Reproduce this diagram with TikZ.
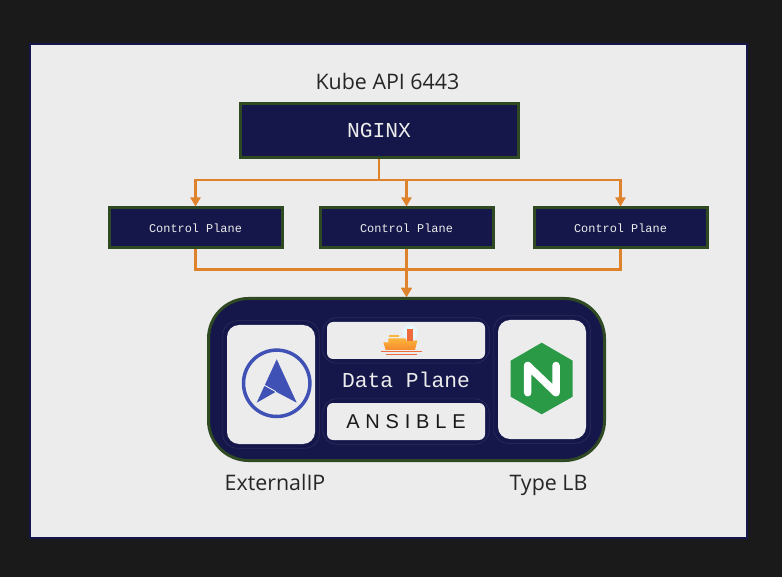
\documentclass[tikz,border=0pt]{standalone}
\usepackage{fontspec}
\usepackage{xcolor}
\setmainfont{Open Sans}
\newfontfamily\monofont{Liberation Mono}
\newfontfamily\logofont[LetterSpace=29]{Liberation Sans}
\usetikzlibrary{arrows.meta, positioning}

\definecolor{pagedark}{HTML}{1A1A1A}
\definecolor{panelgray}{HTML}{ECECEC}
\definecolor{navy}{HTML}{15174A}
\definecolor{mossgreen}{HTML}{2F4A22}
\definecolor{linkorange}{HTML}{DE832B}
\definecolor{compassblue}{HTML}{3F51B5}
\definecolor{nginxgreen}{HTML}{2A9A47}
\definecolor{hulltop}{HTML}{FBB53A}
\definecolor{hullbottom}{HTML}{F58A2E}
\definecolor{shipred}{HTML}{EE6B3E}

\begin{document}
\begin{tikzpicture}[
        x=1pt, y=-1pt,
        box/.style={rectangle, draw=mossgreen, line width=3pt, fill=navy, text=panelgray, align=center, font=\monofont},
        mainbox/.style={box, minimum width=278pt, minimum height=54pt, font=\monofont\fontsize{21.3}{24}\selectfont},
        planebox/.style={box, minimum width=173pt, minimum height=40pt, font=\monofont\fontsize{11.9}{14}\selectfont},
        card/.style={rectangle, fill=panelgray, rounded corners=#1, inner sep=0pt},
        card/.default=6pt,
        caption/.style={anchor=base, font=\fontsize{21.4}{24}\selectfont, text=black!85},
        link/.style={draw=linkorange, line width=2.2pt, -{Triangle[width=10pt, length=9pt]}}
    ]

    % page and panel
    \useasboundingbox (0,0) rectangle (782,577);
    \fill[pagedark] (0,0) rectangle (782,577);
    \node[rectangle, draw=navy, line width=2pt, fill=panelgray, minimum width=717pt, minimum height=494pt] (panel) at (388.5,291) {};

    \node[caption] (kube) at (387.5,90) {Kube API 6443};
    \node[mainbox] (nginx) at (379,130.5) {NGINX};

    \node[planebox] (plane2) at (406.5,228) {Control Plane};
    \node[planebox, left=35pt of plane2] (plane1) {Control Plane};
    \node[planebox, right=38pt of plane2] (plane3) {Control Plane};

    % data plane block
    \node[rectangle, draw=mossgreen, line width=3pt, fill=navy, rounded corners=40pt, minimum width=396pt, minimum height=162pt] (data) at (406.5,379.5) {};

    \node[card=12pt, minimum width=88pt, minimum height=119pt] (ipcard) at (271,384.5) {};
    \node[card=12pt, minimum width=88pt, minimum height=119pt] (lbcard) at (542,379.5) {};
    \node[card, minimum width=158pt, minimum height=37pt] (shipcard) at (406,340.5) {};
    \node[card, minimum width=158pt, minimum height=37pt, font=\logofont\fontsize{20}{24}\selectfont, text=black!90] (ansible) at (406,421.5) {ANSIBLE};
    \node[text=panelgray, font=\monofont\fontsize{21.3}{24}\selectfont] (dataplane) at (406,380) {Data Plane};

    % faint rings round the cards
    \foreach \c in {ipcard, lbcard, shipcard, ansible}
        \draw[white!10!navy, line width=0.6pt, rounded corners=14pt] ([shift={(-4,-4)}]\c.north west) rectangle ([shift={(4,4)}]\c.south east);

    \node[caption] (extip) at (275,490) {ExternalIP};
    \node[caption] (typelb) at (548.5,490) {Type LB};

    % compass icon
    \draw[compassblue, line width=3.5pt] (276.7,383.3) circle (33.2pt);
    \fill[compassblue] (276.7,359.3) -- (296.7,402.7) -- (276,391.7) -- (256.7,402.7) -- cycle;
    \draw[white, line width=0.8pt] (264,385) -- (276,391.7);

    % hexagon icon
    \fill[nginxgreen] (541.7,342.7) -- (572.7,360.7) -- (572.7,396.7) -- (541.7,414.3) -- (510.7,396.7) -- (510.7,360.7) -- cycle;
    \draw[white, line width=7.5pt, line cap=round, line join=round] (527.7,392.7) -- (527.7,365.5) -- (556,392.7) -- (556,365.5);

    % ship icon
    \fill[cyan!10!white] (410,332.7) circle (7.5pt);
    \fill[hulltop] (389.3,334.8) rectangle (399.3,337.5);
    \shade[top color=hulltop, bottom color=hullbottom] (388.3,338.5) -- (406,338.5) -- (406,340.7) -- (417.3,340.7) -- (415,350) -- (385.7,350) -- (383.3,342.3) -- (388.3,342.3) -- cycle;
    \fill[shipred] (407.3,329.3) rectangle (413.3,340.7);
    \draw[shipred, line width=0.8pt] (381,351.3) -- (421.7,351.3);
    \draw[shipred, line width=0.8pt] (385.7,354) -- (416.7,354);

    % connectors
    \draw[link] (nginx.south) -- ++(0,21) -| (plane1.north);
    \draw[link] (nginx.south) -- ++(0,21) -| (plane2.north);
    \draw[link] (nginx.south) -- ++(0,21) -| (plane3.north);
    \draw[link] (plane1.south) -- ++(0,20) -| (data.north);
    \draw[link] (plane2.south) -- (data.north);
    \draw[link] (plane3.south) -- ++(0,20) -| (data.north);

\end{tikzpicture}
\end{document}
